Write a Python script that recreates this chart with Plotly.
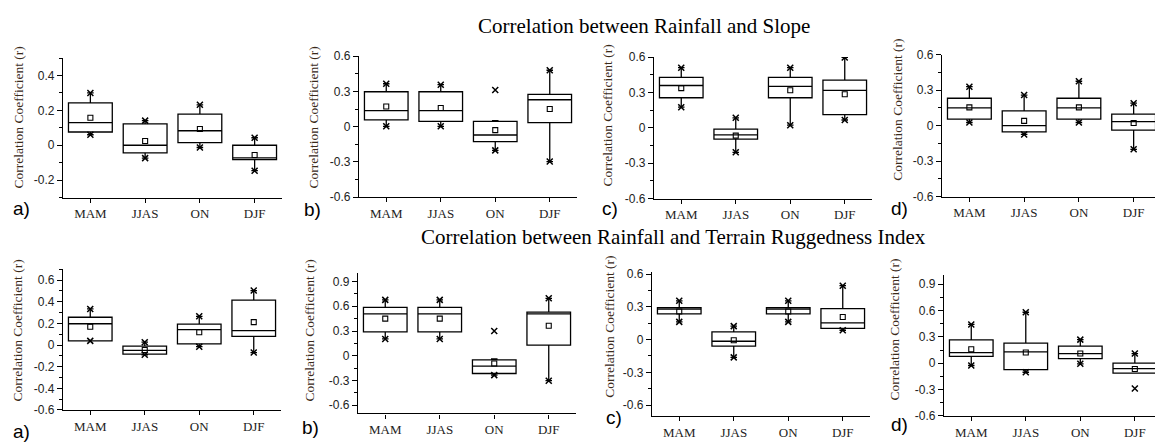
import plotly.graph_objects as go

W, H = 1155, 448

SEASONS = ["MAM", "JJAS", "ON", "DJF"]

# ---- Correlation between Rainfall and Slope (panels a-d) ----
SLOPE_Q1 = [[0.076, -0.044, 0.015, -0.083],
            [0.057, 0.044, -0.128, 0.035],
            [0.255, -0.096, 0.255, 0.112],
            [0.055, -0.052, 0.055, -0.038]]
SLOPE_MED = [[0.13, 0.0, 0.083, -0.072],
             [0.136, 0.136, -0.071, 0.229],
             [0.359, -0.06, 0.351, 0.318],
             [0.15, 0.0, 0.15, 0.035]]
SLOPE_Q3 = [[0.243, 0.122, 0.178, 0.0],
            [0.297, 0.297, 0.044, 0.275],
            [0.427, -0.011, 0.427, 0.405],
            [0.232, 0.125, 0.232, 0.098]]
SLOPE_MEAN = [[0.158, 0.024, 0.093, -0.056],
              [0.172, 0.158, -0.03, 0.15],
              [0.337, -0.066, 0.318, 0.285],
              [0.155, 0.041, 0.155, 0.022]]
SLOPE_WLO = [[0.06, -0.074, -0.013, -0.146],
             [0.003, 0.003, -0.202, -0.297],
             [0.175, -0.208, 0.022, 0.066],
             [0.027, -0.074, 0.027, -0.2]]
SLOPE_WHI = [[0.30, 0.141, 0.232, 0.043],
             [0.365, 0.357, 0.05, 0.48],
             [0.51, 0.085, 0.51, 0.597],
             [0.33, 0.259, 0.376, 0.19]]
SLOPE_XMIN = [[0.06, -0.074, -0.013, -0.146],
              [0.003, 0.003, -0.202, -0.297],
              [0.175, -0.208, 0.022, 0.066],
              [0.027, -0.074, 0.027, -0.2]]
SLOPE_XMAX = [[0.30, 0.141, 0.232, 0.043],
              [0.365, 0.357, 0.311, 0.48],
              [0.51, 0.085, 0.51, 0.597],
              [0.33, 0.259, 0.376, 0.19]]

# ---- Correlation between Rainfall and Terrain Ruggedness Index ----
TRI_Q1 = [[0.039, -0.084, 0.012, 0.081],
          [0.29, 0.29, -0.215, 0.129],
          [0.237, -0.059, 0.237, 0.104],
          [0.077, -0.073, 0.051, -0.114]]
TRI_MED = [[0.197, -0.048, 0.143, 0.134],
           [0.509, 0.509, -0.125, 0.509],
           [0.279, -0.015, 0.279, 0.154],
           [0.121, 0.129, 0.11, -0.062]]
TRI_Q3 = [[0.257, -0.009, 0.194, 0.415],
          [0.588, 0.588, -0.051, 0.529],
          [0.293, 0.071, 0.293, 0.284],
          [0.265, 0.228, 0.195, 0.0]]
TRI_MEAN = [[0.17, -0.045, 0.119, 0.212],
            [0.45, 0.45, -0.094, 0.364],
            [0.258, -0.006, 0.258, 0.207],
            [0.158, 0.121, 0.11, -0.066]]
TRI_WLO = [[0.039, -0.09, -0.015, -0.069],
           [0.204, 0.204, -0.235, -0.302],
           [0.163, -0.163, 0.163, 0.086],
           [-0.026, -0.103, -0.007, -0.114]]
TRI_WHI = [[0.334, 0.027, 0.266, 0.504],
           [0.678, 0.678, -0.039, 0.697],
           [0.356, 0.124, 0.356, 0.495],
           [0.441, 0.58, 0.268, 0.11]]
TRI_XMIN = [[0.039, -0.09, -0.015, -0.069],
            [0.204, 0.204, -0.235, -0.302],
            [0.163, -0.163, 0.163, 0.086],
            [-0.026, -0.103, -0.007, -0.287]]
TRI_XMAX = [[0.334, 0.027, 0.266, 0.504],
            [0.678, 0.678, 0.30, 0.697],
            [0.356, 0.124, 0.356, 0.495],
            [0.441, 0.58, 0.268, 0.11]]

# y-axis ranges and tick values per panel
Y_RANGES = [[-0.3, 0.5], [-0.6, 0.6], [-0.6, 0.6], [-0.6, 0.6],
            [-0.6, 0.7], [-0.7, 1.0], [-0.7, 0.62], [-0.6, 1.0]]
Y_TICKS = [[-0.2, 0, 0.2, 0.4],
           [-0.6, -0.3, 0, 0.3, 0.6],
           [-0.6, -0.3, 0, 0.3, 0.6],
           [-0.6, -0.3, 0, 0.3, 0.6],
           [-0.6, -0.4, -0.2, 0, 0.2, 0.4, 0.6],
           [-0.6, -0.3, 0, 0.3, 0.6, 0.9],
           [-0.6, -0.3, 0, 0.3, 0.6],
           [-0.6, -0.3, 0, 0.3, 0.6, 0.9]]
Y_MINOR = [0.1, 0.15, 0.15, 0.15, 0.1, 0.15, 0.15, 0.15]
PANEL_LETTERS = ["a)", "b)", "c)", "d)", "a)", "b)", "c)", "d)"]
TITLES = ["Correlation between Rainfall and Slope",
          "Correlation between Rainfall and Terrain Ruggedness Index"]

# ---- layout geometry (pixels) ----
X_DOM = [(63, 282), (359, 577), (654, 872), (942, 1155),
         (63, 281), (358, 576), (652, 870), (944, 1155)]
Y_DOM = [(52.7, 196.7), (50.7, 196.3), (51.7, 197.7), (49.3, 195.7),
         (270.8, 416.0), (274.9, 419.6), (273.6, 422.1), (277.0, 422.1)]
X_END = [3.5, 3.5, 3.5, 3.39, 3.5, 3.5, 3.5, 3.37]
LETTER_POS = [(21, 208), (312, 209), (610, 208), (899, 208),
              (21, 438), (310, 434), (614, 424), (899, 431)]
YTITLE_POS = [(18, 114), (313, 114), (607, 112), (898, 106),
              (18, 334), (310, 334), (610, 330), (895, 333)]
TITLE_POS = [(644, 20), (673, 237)]

SERIF = "Liberation Serif"
SANS = "Liberation Sans"


def fx(p):
    return p / W


def fy(p):
    return 1 - p / H


def fmt(v):
    if abs(v) < 1e-9:
        return "0"
    s = f"{v:.1f}"
    return s


fig = go.Figure()

groups = [(SLOPE_Q1, SLOPE_MED, SLOPE_Q3, SLOPE_MEAN, SLOPE_WLO, SLOPE_WHI, SLOPE_XMIN, SLOPE_XMAX),
          (TRI_Q1, TRI_MED, TRI_Q3, TRI_MEAN, TRI_WLO, TRI_WHI, TRI_XMIN, TRI_XMAX)]

layout = {}
annotations = []
idx = 0
for g in groups:
    q1s, meds, q3s, means, wlos, whis, xmins, xmaxs = g
    for k in range(4):
        n = idx + 1
        xa = "x" if n == 1 else f"x{n}"
        ya = "y" if n == 1 else f"y{n}"
        fig.add_trace(go.Box(
            x=SEASONS, q1=q1s[k], median=meds[k], q3=q3s[k],
            lowerfence=wlos[k], upperfence=whis[k],
            xaxis=xa, yaxis=ya, width=0.8, whiskerwidth=0.15,
            boxpoints=False, fillcolor="rgba(255,255,255,0)",
            line=dict(color="black", width=1.3), showlegend=False,
            hoverinfo="skip"))
        fig.add_trace(go.Scatter(
            x=SEASONS + SEASONS, y=xmaxs[k] + xmins[k], mode="markers",
            xaxis=xa, yaxis=ya, showlegend=False, hoverinfo="skip",
            marker=dict(symbol="x-thin-open", size=6, color="black",
                        line=dict(color="black", width=1.5))))
        fig.add_trace(go.Scatter(
            x=SEASONS, y=means[k], mode="markers",
            xaxis=xa, yaxis=ya, showlegend=False, hoverinfo="skip",
            marker=dict(symbol="square-open", size=5, color="black",
                        line=dict(color="black", width=1.1))))

        x0, x1 = X_DOM[idx]
        t, b = Y_DOM[idx]
        kx = "xaxis" if n == 1 else f"xaxis{n}"
        ky = "yaxis" if n == 1 else f"yaxis{n}"
        layout[kx] = dict(
            domain=[fx(x0), fx(x1)], anchor=ya, type="category",
            categoryorder="array", categoryarray=SEASONS,
            range=[-0.5, X_END[idx]], showline=True, linecolor="black",
            linewidth=1.3, showgrid=False, zeroline=False,
            ticks="outside", ticklen=4, tickwidth=1.2, tickcolor="black",
            tickfont=dict(family=SERIF, size=13, color="#222"))
        tv = Y_TICKS[idx]
        layout[ky] = dict(
            domain=[fy(b), fy(t)], anchor=xa, range=Y_RANGES[idx],
            showline=True, linecolor="black", linewidth=1.3,
            showgrid=False, zeroline=False,
            tickmode="array", tickvals=tv, ticktext=[fmt(v) for v in tv],
            ticks="outside", ticklen=5, tickwidth=1.2, tickcolor="black",
            tickfont=dict(family=SANS, size=12, color="#222"),
            minor=dict(tickmode="linear", tick0=0, dtick=Y_MINOR[idx],
                       ticks="outside", ticklen=3, tickwidth=1,
                       tickcolor="black", showgrid=False))

        lx, ly = LETTER_POS[idx]
        annotations.append(dict(
            text=PANEL_LETTERS[idx], x=fx(lx), y=fy(ly), xref="paper",
            yref="paper", xanchor="center", yanchor="middle",
            showarrow=False, font=dict(family=SANS, size=19, color="black")))
        tx, ty = YTITLE_POS[idx]
        annotations.append(dict(
            text="Correlation Coefficient (r)", x=fx(tx), y=fy(ty),
            xref="paper", yref="paper", xanchor="center", yanchor="middle",
            textangle=-90, showarrow=False,
            font=dict(family=SERIF, size=13.5, color="#3a2a1a")))
        idx += 1

for i, title in enumerate(TITLES):
    px_, py_ = TITLE_POS[i]
    annotations.append(dict(
        text=title, x=fx(px_), y=fy(py_), xref="paper", yref="paper",
        xanchor="center", yanchor="middle", showarrow=False,
        font=dict(family=SERIF, size=21, color="black")))

fig.update_layout(
    width=W, height=H, margin=dict(l=0, r=0, t=0, b=0),
    paper_bgcolor="white", plot_bgcolor="white",
    annotations=annotations, **layout)

fig.write_html("out.html")
